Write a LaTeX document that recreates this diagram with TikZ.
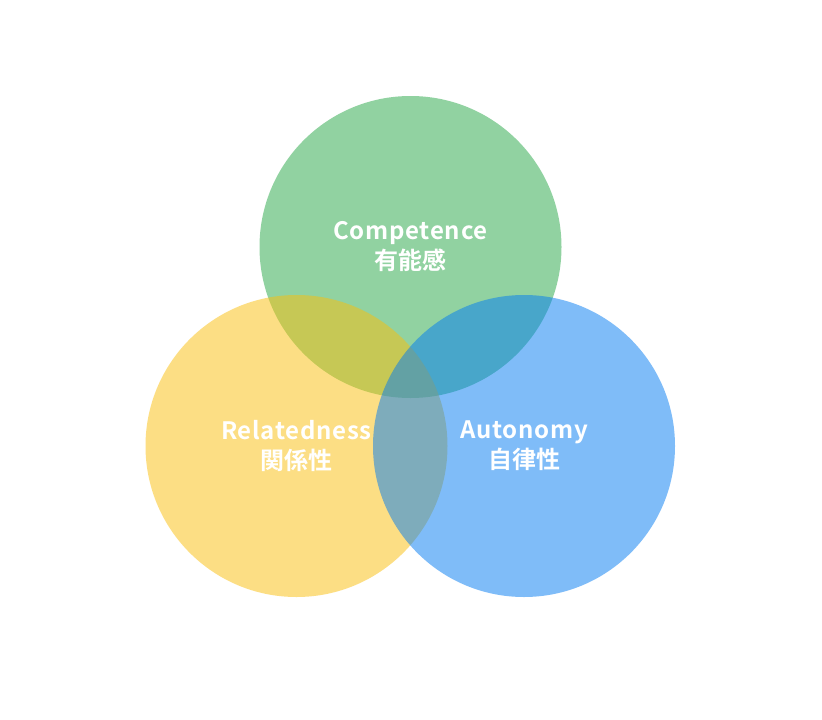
\documentclass[tikz,border=0pt]{standalone}
\usepackage{fontspec}
\usepackage{tikz}
\newfontfamily\labelfont{Noto Sans CJK JP Bold}
\newfontfamily\namefont[LetterSpace=3]{Noto Sans CJK JP Bold}

\definecolor{needgreen}{RGB}{37,167,69}
\definecolor{needyellow}{RGB}{251,191,11}
\definecolor{needblue}{RGB}{1,123,243}

\tikzset{
  need/.style={circle, minimum size=302pt, inner sep=0pt, fill opacity=0.5,
    text opacity=1, text=white, align=center, font=\labelfont\fontsize{24}{30}\selectfont}
}

\begin{document}
\begin{tikzpicture}[x=1pt,y=-1pt]
        % White page
        \useasboundingbox [fill=white] (0,0) rectangle (822,720);
        % Three needs
        \node [need, fill=needgreen] (competence) at (410.5,247) {{\namefont Competence}\\有能感};
        \node [need, fill=needyellow] (relatedness) at (296.5,446) {{\namefont Relatedness}\\関係性};
        \node [need, fill=needblue] (autonomy) at (524,446) {{\namefont Autonomy}\\自律性};
    \end{tikzpicture}
\end{document}
